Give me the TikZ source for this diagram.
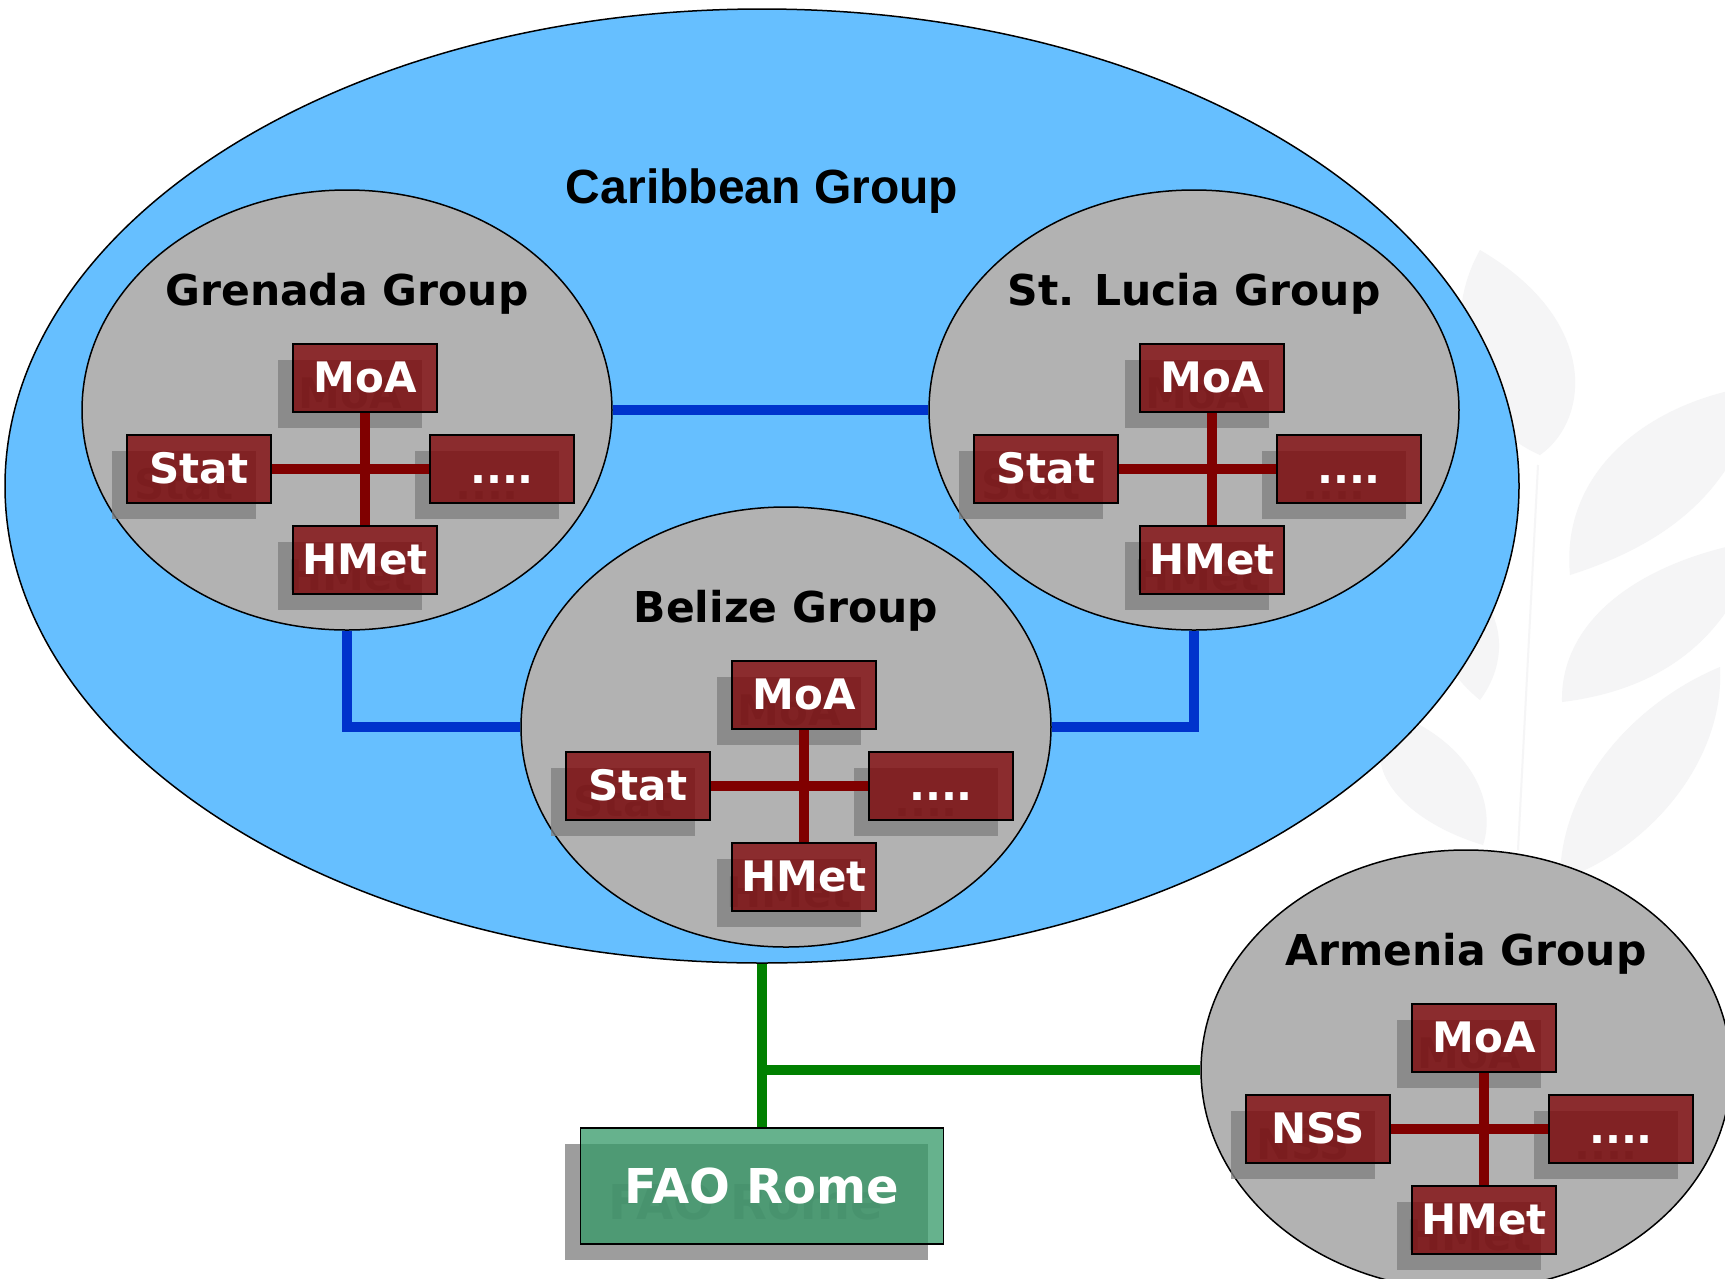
\documentclass[tikz,border=0pt]{standalone}
\usepackage{fontspec}
\newfontfamily\vfont{DejaVu Sans}
\newfontfamily\afont{Liberation Sans}
\usetikzlibrary{shapes.geometric}
\definecolor{cblue}{RGB}{102,191,255}
\definecolor{cgray}{RGB}{178,178,178}
\definecolor{bred}{RGB}{126,0,2}
\definecolor{bgreen}{RGB}{52,153,103}
\definecolor{shgray}{RGB}{128,128,128}
\definecolor{lblue}{RGB}{0,51,204}
\definecolor{lgreen}{RGB}{0,128,0}
\definecolor{lred}{RGB}{128,0,0}
\definecolor{leafc}{RGB}{245,245,246}
\tikzset{
  grp/.style={ellipse, draw=black, line width=1.5pt, fill=cgray,
    minimum width=530pt, minimum height=440pt, inner sep=0pt},
  grptitle/.style={anchor=base, text=black,
    font=\vfont\bfseries\fontsize{42.5}{42.5}\selectfont},
  unitbox/.style={rectangle, draw=black, line width=1.5pt, fill=bred,
    fill opacity=0.75, draw opacity=1, text opacity=1, text=white,
    minimum width=144pt, minimum height=68pt, inner sep=0pt,
    text height=28pt, text depth=0pt,
    font=\vfont\bfseries\fontsize{42}{42}\selectfont},
  unitshadow/.style={rectangle, fill=shgray, fill opacity=0.77,
    text opacity=0.15, text=black,
    minimum width=144pt, minimum height=68pt, inner sep=0pt,
    text height=28pt, text depth=0pt,
    font=\vfont\bfseries\fontsize{42}{42}\selectfont},
  faobox/.style={unitbox, fill=bgreen, minimum width=363pt, minimum height=116pt,
    text height=35pt, font=\vfont\bfseries\fontsize{48}{48}\selectfont},
  faoshadow/.style={unitshadow, minimum width=363pt, minimum height=116pt,
    text height=35pt, font=\vfont\bfseries\fontsize{48}{48}\selectfont},
  crossline/.style={draw=lred, line width=10pt},
  blueline/.style={draw=lblue, line width=10.5pt},
  greenline/.style={draw=lgreen, line width=10pt},
}
\newcommand\mkgroup[5]{%
  \node[grp] (#1) at (#2,#3) {};
  \node[grptitle] (#1t) at (#2,#3-105) {#4};
  \node[unitshadow] (#1Ms) at (#2+3,#3-16) {MoA};
  \node[unitshadow] (#1Ss) at (#2-163,#3+75) {#5};
  \node[unitshadow] (#1Ds) at (#2+140,#3+75) {....};
  \node[unitshadow] (#1Hs) at (#2+3,#3+166) {HMet};
  \node[unitbox] (#1M) at (#2+18,#3-32) {MoA};
  \node[unitbox] (#1S) at (#2-148,#3+59) {#5};
  \node[unitbox] (#1D) at (#2+155,#3+59) {....};
  \node[unitbox] (#1H) at (#2+18,#3+150) {HMet};
  \draw[crossline] (#1M.south) -- (#1H.north);
  \draw[crossline] (#1S.east) -- (#1D.west);
}
\begin{document}
\begin{tikzpicture}[x=1pt,y=-1pt]
\useasboundingbox (0,0) rectangle (1725,1278);
\fill[white] (0,0) rectangle (1725,1278);
% faint background leaves
\fill[leafc] (1480,250) .. controls (1600,320) and (1590,420) .. (1540,455)
  .. controls (1460,420) and (1440,320) .. cycle;
\fill[leafc] (1570,575) .. controls (1560,470) and (1650,400) .. (1760,385)
  .. controls (1740,480) and (1680,540) .. cycle;
\fill[leafc] (1562,702) .. controls (1560,620) and (1640,560) .. (1760,540)
  .. controls (1730,640) and (1660,690) .. cycle;
\fill[leafc] (1560,880) .. controls (1560,780) and (1640,700) .. (1720,667)
  .. controls (1725,760) and (1650,850) .. cycle;
\fill[leafc] (1440,560) .. controls (1510,600) and (1510,660) .. (1480,700)
  .. controls (1430,660) and (1420,600) .. cycle;
\fill[leafc] (1400,715) .. controls (1480,750) and (1495,810) .. (1483,845)
  .. controls (1400,820) and (1350,760) .. cycle;
\draw[leafc, line width=2pt] (1538,465) -- (1518,850);
% Caribbean group
\node[ellipse, draw=black, line width=1.5pt, fill=cblue, inner sep=0pt,
  minimum width=1514pt, minimum height=954pt] (C) at (762,486) {};
\node[anchor=base, text=black, font=\afont\bfseries\fontsize{48}{48}\selectfont]
  (Ct) at (762,203) {Caribbean Group};
\mkgroup{G}{347}{410}{Grenada Group}{Stat}
\mkgroup{L}{1194}{410}{St. Lucia Group}{Stat}
\mkgroup{B}{786}{727}{Belize Group}{Stat}
\mkgroup{A}{1466}{1070}{Armenia Group}{NSS}
\draw[blueline] (G.east) -- (L.west);
\draw[blueline] (G.south) |- (B.west);
\draw[blueline] (L.south) |- (B.east);
% FAO Rome
\node[faoshadow] (Fs) at (746,1202) {FAO Rome};
\node[faobox] (F) at (762,1186) {FAO Rome};
\draw[greenline] (C.south) -- (F.north);
\draw[greenline] (C.south |- A.west) -- (A.west);
\end{tikzpicture}
\end{document}
